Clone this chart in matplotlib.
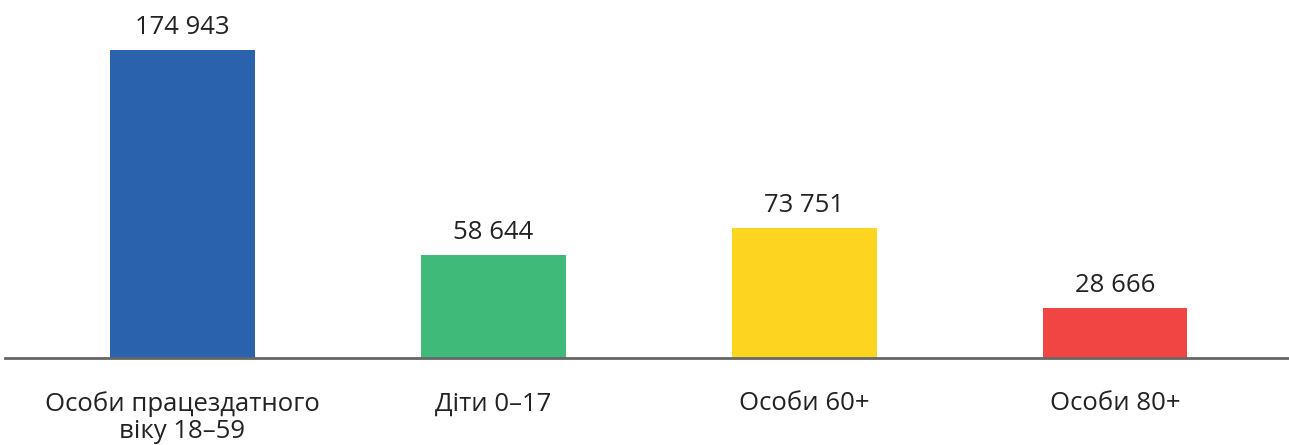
import matplotlib
matplotlib.use("Agg")
import matplotlib.pyplot as plt

plt.rcParams['font.family'] = ['Open Sans', 'DejaVu Sans']

categories = ["Особи працездатного\nвіку 18–59", "Діти 0–17", "Особи 60+", "Особи 80+"]
values = [174943, 58644, 73751, 28666]
colors = ["#2A62AE", "#3FBA78", "#FDD520", "#F04542"]

fig = plt.figure(figsize=(12.89, 4.45), dpi=100)
ax = fig.add_axes([5 / 1289, 87 / 445, 1284 / 1289, 352 / 445])

x = range(len(values))
ax.bar(x, values, width=0.466, color=colors, zorder=2)

# value labels above bars, space as thousands separator
for xi, v in zip(x, values):
    ax.annotate(f"{v:,}".replace(",", " "), (xi, v), xytext=(0, 16),
                textcoords="offset points", ha="center", va="center",
                fontsize=18.5, color="#222222")

ax.set_xlim(-0.571, 3.56)
ax.set_ylim(0, 200000)
ax.set_xticks(list(x))
ax.set_xticklabels(categories, fontsize=18.5, color="#222222", linespacing=1.12)
ax.tick_params(axis="x", length=0, pad=24)
ax.set_yticks([])
for s in ("top", "right", "left"):
    ax.spines[s].set_visible(False)
ax.spines["bottom"].set_color("#666666")
ax.spines["bottom"].set_linewidth(2)
ax.spines["bottom"].set_zorder(3)

fig.savefig("out.png", dpi=100)
